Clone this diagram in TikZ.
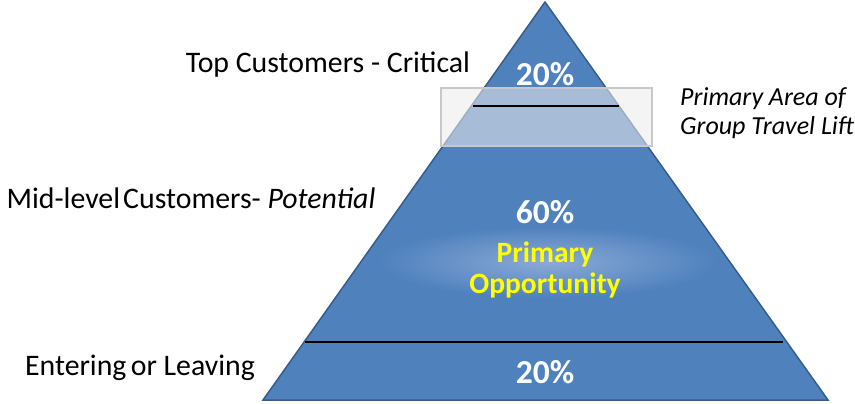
\documentclass[tikz,border=0pt]{standalone}
\usepackage{fontspec}
\setmainfont{Carlito}
\begin{document}
\definecolor{pyrblue}{RGB}{79,129,189}
\definecolor{pyredge}{RGB}{56,93,138}
\definecolor{glowblue}{RGB}{138,170,214}
\definecolor{boxfill}{RGB}{235,235,235}
\definecolor{boxedge}{RGB}{200,200,200}
\begin{tikzpicture}[x=1bp,y=-1bp,
  label/.style={font=\fontsize{29.8bp}{34bp}\selectfont, text=black, inner sep=0pt, anchor=base},
  note/.style={font=\fontsize{26bp}{30bp}\selectfont\itshape, text=black, inner sep=0pt, anchor=base west},
  pct/.style={font=\fontsize{33.5bp}{38bp}\selectfont\bfseries, text=white, inner sep=0pt, anchor=base},
  oppo/.style={font=\fontsize{29.5bp}{34bp}\selectfont\bfseries, text={rgb,255:red,255;green,255;blue,0}, inner sep=0pt, anchor=base},
  divider/.style={draw=black, line width=2.6bp},
]
\useasboundingbox (0,0) rectangle (855,403);

% pyramid corners
\coordinate (apex) at (545,2);
\coordinate (bl) at (263,400);
\coordinate (br) at (828,400);

% pyramid body
\fill[pyrblue] (apex) -- (br) -- (bl) -- cycle;

% soft glow behind the opportunity text
\begin{scope}
  \clip (apex) -- (br) -- (bl) -- cycle;
  \shade[inner color=glowblue, outer color=pyrblue] (548,262) ellipse [x radius=170, y radius=36];
\end{scope}

\draw[pyredge, line width=1.5bp, line join=miter] (apex) -- (br) -- (bl) -- cycle;

% tier labels inside the pyramid
\node[pct] (toppct) at (545,85) {20\%};
\node[pct] (midpct) at (545,223) {60\%};
\node[oppo] (prim) at (545,262) {Primary};
\node[oppo] (opp) at (545,293) {Opportunity};
\node[pct] (botpct) at (545,383) {20\%};

% lower divider
\coordinate (lowL) at (305,342);
\coordinate (lowR) at (783,342);
\draw[divider] (lowL) -- (lowR);

% translucent highlight band
\fill[boxfill, fill opacity=0.57] (441,88) rectangle (652,146);
\draw[boxedge, line width=2bp] (441,88) rectangle (652,146);

% upper divider
\coordinate (upL) at (473,106);
\coordinate (upR) at (619,106);
\draw[divider] (upL) -- (upR);

% side labels
\node[label] (top) at (328,72) {Top Customers - Critical};
\node[label] (mid) at (191,208) {Mid-level\hspace{-0.12em} Customers- \textit{Potential}};
\node[label] (ent) at (140,375) {Entering\hspace{-0.08em} or Leaving};
\node[note] (area) at (680,105) {Primary Area of};
\node[note] (lift) at (680,134) {Group Travel Lift};
\end{tikzpicture}
\end{document}
